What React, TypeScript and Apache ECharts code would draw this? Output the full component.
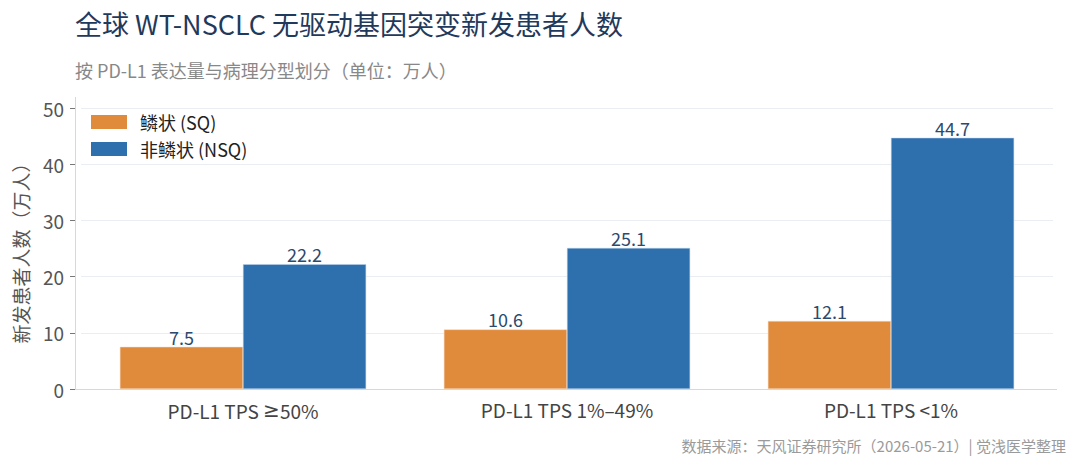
import React, { useEffect, useRef } from "react";
import * as echarts from "echarts";

const categories = ["PD-L1 TPS ≥50%", "PD-L1 TPS 1%–49%", "PD-L1 TPS <1%"];
const sqValues = [7.5, 10.6, 12.1];
const nsqValues = [22.2, 25.1, 44.7];
const seriesNames = ["鳞状 (SQ)", "非鳞状 (NSQ)"];
const titleText = "全球 WT-NSCLC 无驱动基因突变新发患者人数";
const subtitleText = "按 PD-L1 表达量与病理分型划分（单位：万人）";
const yAxisName = "新发患者人数（万人）";
const footerText = "数据来源：天风证券研究所（2026-05-21）| 觉浅医学整理";

const FONT = "'Noto Sans CJK SC', 'Noto Sans', sans-serif";
const AXIS_COLOR = "#d5d9de";

export default function App() {
  const ref = useRef<HTMLDivElement>(null);
  useEffect(() => {
    document.body.style.margin = "0";
    const chart = echarts.init(ref.current!, null, { renderer: "svg" });
    chart.setOption({
      animation: false,
      backgroundColor: "#fff",
      textStyle: { fontFamily: FONT },
      title: [
        {
          text: titleText,
          left: 70,
          top: 5,
          textStyle: { fontSize: 27, fontWeight: "normal", color: "#1f3a5c", fontFamily: FONT },
        },
        {
          text: subtitleText,
          left: 70,
          top: 56,
          textStyle: { fontSize: 18, fontWeight: "normal", color: "#888", fontFamily: FONT },
        },
        {
          text: footerText,
          right: 9,
          top: 433,
          textStyle: { fontSize: 15, fontWeight: "normal", color: "#9a9a9a", fontFamily: FONT },
        },
      ],
      legend: {
        orient: "vertical",
        left: 86,
        top: 108,
        icon: "rect",
        itemWidth: 36,
        itemHeight: 14,
        itemGap: 9,
        itemStyle: { borderWidth: 0 },
        textStyle: { fontSize: 18, color: "#222", fontFamily: FONT, padding: [0, 0, 0, 8] },
        data: seriesNames,
      },
      grid: { left: 81, right: 27, top: 108, bottom: 80 },
      xAxis: {
        type: "category",
        data: categories,
        axisLine: { lineStyle: { color: AXIS_COLOR, width: 1 } },
        axisTick: { alignWithLabel: true, length: 5, lineStyle: { color: "#555" } },
        axisLabel: {
          fontSize: 19,
          color: "#444",
          margin: 11,
          fontFamily: FONT,
          formatter: (v: string) => v.replace("≥", "{ge|≥}"),
          rich: {
            ge: { fontFamily: "'DejaVu Sans'", fontSize: 20, color: "#444" },
          },
        },
      },
      yAxis: {
        type: "value",
        min: 0,
        max: 50,
        interval: 10,
        offset: 6,
        name: yAxisName,
        nameLocation: "middle",
        nameGap: 45,
        nameTextStyle: { fontSize: 19, color: "#555", fontFamily: FONT },
        axisLine: { show: true, lineStyle: { color: AXIS_COLOR } },
        axisTick: { show: true, length: 5, lineStyle: { color: "#777" } },
        axisLabel: { fontSize: 19, color: "#555", margin: 11, fontFamily: FONT },
        splitLine: { lineStyle: { color: "#eaeef2", width: 1 } },
      },
      graphic: [
        {
          type: "line",
          shape: { x1: 75.5, y1: 97, x2: 75.5, y2: 108 },
          style: { stroke: AXIS_COLOR, lineWidth: 1 },
        },
        {
          type: "line",
          shape: { x1: 75, y1: 389.5, x2: 81, y2: 389.5 },
          style: { stroke: AXIS_COLOR, lineWidth: 1 },
        },
        {
          type: "line",
          shape: { x1: 1053, y1: 389.5, x2: 1057, y2: 389.5 },
          style: { stroke: AXIS_COLOR, lineWidth: 1 },
        },
      ],
      series: [
        {
          name: seriesNames[0],
          type: "bar",
          data: sqValues,
          barGap: "0%",
          barCategoryGap: "24%",
          itemStyle: { color: "#e08a3c", borderColor: "#f3d8bd", borderWidth: 0.5 },
          label: {
            show: true,
            position: "top",
            distance: 1,
            fontSize: 18,
            color: "#2c4a6e",
            fontFamily: FONT,
          },
        },
        {
          name: seriesNames[1],
          type: "bar",
          data: nsqValues,
          barGap: "0%",
          barCategoryGap: "24%",
          itemStyle: { color: "#2e6fae", borderColor: "#bcd3ea", borderWidth: 0.5 },
          label: {
            show: true,
            position: "top",
            distance: 1,
            fontSize: 18,
            color: "#2c4a6e",
            fontFamily: FONT,
          },
        },
      ],
    });
    return () => chart.dispose();
  }, []);
  return <div ref={ref} style={{ width: 1080, height: 469 }} />;
}
